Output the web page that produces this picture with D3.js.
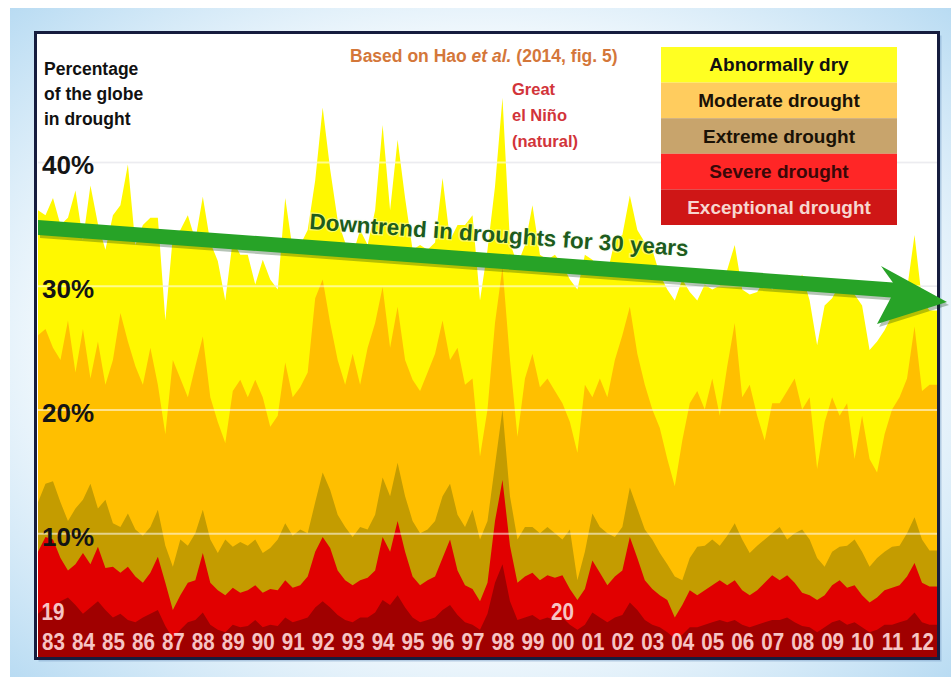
<!DOCTYPE html>
<html>
<head>
<meta charset="utf-8">
<script src="https://cdn.jsdelivr.net/npm/d3@7"></script>
<style>
  body { margin: 0; background: #fff; }
  svg { display: block; font-family: "Liberation Sans", Arial, sans-serif; }
</style>
</head>
<body>
<svg id="chart" width="951" height="677"></svg>
<script>
'use strict'

// quarterly samples, 1983 .. 2012 (4 per year), % of the globe at or above each level
var abnormallyDry = [
  36.1, 35.7, 37.1, 34.9,  35.5, 37.7, 33.7, 38.1,  35.0, 32.9, 35.7, 36.5,  39.8, 33.3, 34.9, 35.5,
  35.5, 27.2, 34.0, 34.5,  35.7, 33.7, 37.2, 33.5,  32.0, 28.8, 33.7, 32.5,  32.5, 30.1, 32.1, 30.5,
  29.7, 37.1, 32.9, 33.3,  34.5, 38.5, 44.4, 39.4,  35.3, 33.5, 32.5, 34.5,  33.3, 36.1, 43.0, 36.1,
  41.8, 37.1, 32.9, 33.3,  32.9, 33.5, 38.7, 33.7,  34.9, 34.9, 35.7, 28.8,  32.9, 38.0, 45.2, 33.5,
  31.7, 33.3, 36.5, 32.5,  32.1, 32.5, 31.7, 30.5,  29.7, 32.5, 32.1, 31.3,  31.0, 33.7, 34.1, 37.3,
  34.5, 33.5, 32.9, 30.9,  29.7, 28.8, 30.5, 29.5,  28.8, 30.1, 29.7, 30.0,  31.3, 33.3, 29.7, 29.3,
  29.5, 30.5, 29.7, 30.5,  30.9, 29.7, 30.9, 28.8,  25.2, 28.4, 29.0, 30.1,  30.5, 29.3, 28.4, 24.8,
  25.5, 26.4, 27.6, 27.6,  29.7, 34.1, 28.8, 28.0
];
var moderate = [
  26.0, 26.5, 25.0, 24.0,  27.2, 23.0, 26.5, 22.5,  25.5, 22.0, 24.0, 27.8,  25.5, 23.5, 22.0, 25.0,
  22.0, 18.0, 24.0, 22.5,  21.0, 23.5, 25.9, 21.0,  19.0, 17.3, 21.5, 22.4,  21.0, 22.4, 21.0, 18.6,
  19.5, 23.8, 21.0, 21.8,  23.0, 29.0, 30.5, 27.0,  24.0, 22.0, 24.5, 22.0,  25.0, 27.0, 29.9, 25.0,
  28.3, 24.0, 22.4, 21.5,  23.0, 24.5, 27.2, 24.0,  25.0, 22.0, 22.5, 16.2,  20.0, 27.0, 31.5, 24.0,
  17.8, 22.5, 24.5, 21.8,  22.5, 21.5, 20.5, 19.0,  16.5, 22.0, 21.0, 22.5,  21.0, 24.0, 26.0, 28.3,
  24.5, 22.0, 20.0, 18.5,  16.0, 13.8, 17.5, 20.5,  21.5, 20.0, 22.5, 19.5,  23.5, 27.0, 21.0, 22.0,
  19.5, 17.5, 20.5, 20.5,  21.5, 22.5, 20.0, 21.0,  15.2, 19.0, 21.0, 19.5,  20.5, 16.0, 19.5, 16.0,
  14.9, 18.0, 20.0, 21.0,  22.5, 26.7, 21.5, 22.0
];
var extreme = [
  12.5, 14.0, 14.2, 12.5,  11.0, 12.0, 12.7, 14.0,  12.0, 12.7, 10.8, 10.5,  11.6, 10.3, 9.8, 10.5,
  11.9, 9.0, 7.3, 9.5,     9.0, 10.0, 11.9, 9.5,    8.4, 9.5, 8.9, 9.3,      9.0, 9.5, 8.4, 8.8,
  9.5, 10.8, 9.8, 10.3,    10.0, 12.5, 14.9, 13.5,  11.5, 10.5, 9.7, 10.5,   10.3, 11.5, 14.5, 13.0,
  15.7, 13.0, 11.0, 10.0,  10.3, 11.0, 13.0, 14.0,  11.5, 10.5, 11.9, 9.5,   11.0, 15.5, 20.0, 13.0,
  9.5, 10.5, 10.5, 10.0,   10.5, 10.0, 9.5, 10.3,   6.2, 8.5, 11.6, 10.5,    10.0, 9.7, 10.5, 13.7,
  12.0, 10.3, 9.5, 8.4,    7.5, 6.5, 6.2, 8.0,      8.9, 9.0, 9.5, 9.0,      9.8, 10.8, 9.5, 8.4,
  9.0, 9.5, 10.0, 10.5,    9.5, 10.0, 10.3, 9.5,    8.0, 7.3, 8.5, 8.9,      9.0, 9.5, 8.5, 7.3,
  8.0, 8.5, 8.9, 9.0,      10.0, 11.3, 9.5, 8.6
];
var severe = [
  8.5, 9.7, 9.5, 8.0,      7.0, 7.5, 8.4, 7.5,      8.9, 7.2, 7.3, 6.8,      7.3, 6.5, 6.0, 6.8,
  8.1, 6.0, 3.8, 5.0,      6.0, 6.2, 8.4, 6.0,      5.4, 5.0, 5.6, 5.2,      5.4, 5.8, 5.2, 5.5,
  5.4, 6.2, 5.6, 5.8,      6.5, 8.5, 9.7, 8.8,      7.0, 6.2, 5.8, 6.2,      6.4, 7.0, 9.7, 8.5,
  11.0, 8.5, 6.5, 5.8,     6.2, 6.5, 8.0, 9.5,      7.0, 5.8, 5.5, 4.5,      6.0, 11.0, 14.3, 9.0,
  6.0, 6.5, 6.8, 6.2,      6.6, 6.4, 6.6, 5.5,      4.6, 5.5, 7.8, 6.8,      5.8, 6.5, 7.0, 9.7,
  8.0, 6.2, 5.5, 5.0,      4.6, 3.2, 4.2, 5.4,      5.0, 5.4, 5.8, 6.2,      5.8, 6.2, 5.4, 5.0,
  5.4, 6.0, 6.6, 6.2,      6.6, 6.0, 5.2, 5.0,      4.6, 5.0, 5.8, 6.2,      5.6, 5.8, 5.0, 4.4,
  4.8, 5.4, 5.6, 5.8,      6.5, 7.6, 6.0, 5.7
];
var exceptional = [
  3.5, 4.0, 3.8, 4.5,      4.8, 4.2, 3.5, 4.0,      4.5, 3.8, 3.2, 3.5,      3.0, 2.8, 3.2, 3.5,
  3.8, 2.5, 1.5, 2.2,      2.8, 3.0, 3.6, 2.6,      2.2, 2.0, 2.6, 2.4,      2.5, 3.0, 2.4, 2.6,
  2.5, 3.2, 2.8, 3.0,      3.2, 4.0, 4.5, 4.0,      3.4, 3.0, 2.8, 3.2,      3.2, 3.6, 4.6, 4.2,
  5.0, 4.0, 3.2, 2.8,      3.0, 3.2, 3.8, 4.2,      3.4, 2.8, 2.6, 2.2,      3.5, 6.0, 7.5, 4.5,
  3.0, 3.2, 3.4, 3.0,      3.2, 3.0, 3.2, 2.6,      2.2, 2.6, 3.6, 3.2,      2.8, 3.2, 3.4, 4.4,
  3.8, 3.0, 2.6, 2.4,      2.0, 1.5, 1.8, 2.4,      2.4, 2.6, 2.8, 3.0,      2.8, 3.0, 2.6, 2.4,
  2.6, 2.8, 3.0, 3.0,      3.2, 2.8, 2.5, 2.4,      2.0, 2.4, 2.8, 3.0,      2.6, 2.8, 2.4, 2.0,
  2.2, 2.6, 2.6, 2.8,      3.0, 3.6, 2.8, 2.6
];

var yearLabels = ['83', '84', '85', '86', '87', '88', '89', '90', '91', '92', '93', '94', '95', '96', '97',
  '98', '99', '00', '01', '02', '03', '04', '05', '06', '07', '08', '09', '10', '11', '12'];
var centuryLabels = [{ year: 1983, text: '19' }, { year: 2000, text: '20' }];
var yTicks = [10, 20, 30, 40];

var legendLabels = ['Abnormally dry', 'Moderate drought', 'Extreme drought', 'Severe drought', 'Exceptional drought'];
var legendFills = ['#ffff22', '#ffcc5e', '#c8a46c', '#ff2626', '#cf1616'];
var legendText = ['#111', '#1a1206', '#1a1206', '#3a0808', '#f7d6cf'];
var areaFills = ['#fff800', '#ffbf00', '#c49c00', '#e10000', '#a00000'];

// SCALES
var PLOT_L = 38, PLOT_R = 937, PLOT_T = 35, PLOT_B = 657;
var x = d3.scaleLinear().domain([1983, 2013]).range([PLOT_L, PLOT_R]);
var y = d3.scaleLinear().domain([0, 40]).range([PLOT_B, 162]);

var svg = d3.select('#chart');
var defs = svg.append('defs');

// page background
var bg = defs.append('radialGradient').attr('id', 'bgGrad').attr('cx', '50%').attr('cy', '50%').attr('r', '72%');
bg.append('stop').attr('offset', '0.62').attr('stop-color', '#f3f9fd');
bg.append('stop').attr('offset', '1').attr('stop-color', '#b6daf2');
svg.append('rect').attr('width', 951).attr('height', 677).attr('fill', '#fff');
svg.append('rect').attr('x', 10).attr('y', 8).attr('width', 941).attr('height', 669).attr('fill', 'url(#bgGrad)');

defs.append('clipPath').attr('id', 'plotClip')
  .append('rect').attr('x', PLOT_L).attr('y', PLOT_T).attr('width', PLOT_R - PLOT_L).attr('height', PLOT_B - PLOT_T + 2);

// frame
svg.append('rect').attr('x', 38.5).attr('y', 35.5).attr('width', 903).attr('height', 626).attr('fill', '#7fa6cc').attr('opacity', 0.5);
svg.append('rect').attr('x', 35.5).attr('y', 32.5).attr('width', 903).attr('height', 626)
  .attr('fill', '#fff').attr('stroke', '#161c3e').attr('stroke-width', 3);

// grid behind the areas (shows on the white part)
svg.append('g').attr('transform', 'translate(' + PLOT_R + ',0)')
  .call(d3.axisLeft(y).tickValues(yTicks).tickSize(PLOT_R - PLOT_L).tickFormat(''))
  .call(function (g) { g.select('.domain').remove(); })
  .selectAll('line').attr('stroke', '#d6d6de').attr('stroke-width', 1.5);

// AREAS
function toSeries(values) {
  var pts = values.map(function (v, i) { return { t: 1983 + i / 4, v: v }; });
  pts.push({ t: 2013, v: values[values.length - 1] });
  return pts;
}

var area = d3.area()
  .x(function (d) { return x(d.t); })
  .y0(y(0))
  .y1(function (d) { return y(d.v); })
  .curve(d3.curveLinear);

var series = [abnormallyDry, moderate, extreme, severe, exceptional];
var plot = svg.append('g').attr('clip-path', 'url(#plotClip)');
series.forEach(function (s, k) {
  plot.append('path').datum(toSeries(s)).attr('d', area).attr('fill', areaFills[k]);
});

// grid over the areas
svg.append('g').attr('transform', 'translate(' + PLOT_R + ',0)')
  .call(d3.axisLeft(y).tickValues(yTicks).tickSize(PLOT_R - PLOT_L).tickFormat(''))
  .call(function (g) { g.select('.domain').remove(); })
  .selectAll('line').attr('stroke', '#fff').attr('stroke-opacity', 0.55).attr('stroke-width', 2);

// X AXIS (year labels printed inside the plot)
var xAxis = svg.append('g').attr('transform', 'translate(0,650)')
  .call(d3.axisBottom(x)
    .tickValues(yearLabels.map(function (d, i) { return 1983.5 + i; }))
    .tickFormat(function (d, i) { return yearLabels[i]; })
    .tickSize(0).tickPadding(0));
xAxis.select('.domain').remove();
xAxis.selectAll('text')
  .attr('y', 0).attr('dy', 0)
  .attr('transform', 'scale(0.86,1)')
  .attr('font-size', '24px').attr('font-weight', 'bold')
  .attr('font-family', '"Liberation Sans", Arial, sans-serif')
  .attr('fill', '#f6c4c4');

svg.selectAll('.century').data(centuryLabels).enter().append('text')
  .attr('class', 'century')
  .attr('transform', function (d) { return 'translate(' + x(d.year + 0.5) + ',620) scale(0.86,1)'; })
  .attr('text-anchor', 'middle')
  .attr('font-size', '24px').attr('font-weight', 'bold')
  .attr('fill', '#f6c4c4')
  .text(function (d) { return d.text; });

// Y AXIS labels
var yAxis = svg.append('g').attr('transform', 'translate(42,0)')
  .call(d3.axisRight(y).tickValues(yTicks).tickFormat(function (d) { return d + '%'; }).tickSize(0).tickPadding(0));
yAxis.select('.domain').remove();
yAxis.selectAll('text')
  .attr('x', 0).attr('dy', '0.46em')
  .attr('font-size', '26px').attr('font-weight', 'bold')
  .attr('font-family', '"Liberation Sans", Arial, sans-serif')
  .attr('fill', '#141414');

// TEXTS
var leftTitle = ['Percentage', 'of the globe', 'in drought'];
svg.selectAll('.ltitle').data(leftTitle).enter().append('text')
  .attr('class', 'ltitle')
  .attr('x', 44).attr('y', function (d, i) { return 75 + i * 25; })
  .attr('font-size', '17.5px').attr('font-weight', 'bold').attr('fill', '#111')
  .text(function (d) { return d; });

var src = svg.append('text').attr('x', 350).attr('y', 62)
  .attr('font-size', '17.5px').attr('font-weight', 'bold').attr('fill', '#d4773a');
src.append('tspan').text('Based on Hao ');
src.append('tspan').attr('font-style', 'italic').text('et al.');
src.append('tspan').text(' (2014, fig. 5)');

var nino = ['Great', 'el Niño', '(natural)'];
svg.selectAll('.nino').data(nino).enter().append('text')
  .attr('class', 'nino')
  .attr('x', 512).attr('y', function (d, i) { return 95 + i * 26; })
  .attr('font-size', '16.5px').attr('font-weight', 'bold').attr('fill', '#d2343a')
  .text(function (d) { return d; });

// LEGEND
var rows = d3.scaleBand().domain(legendLabels).range([47, 225]);
var lg = svg.append('g');
lg.selectAll('rect').data(legendLabels).enter().append('rect')
  .attr('x', 661).attr('width', 236)
  .attr('y', function (d) { return rows(d); })
  .attr('height', rows.bandwidth())
  .attr('fill', function (d, i) { return legendFills[i]; });
lg.selectAll('text').data(legendLabels).enter().append('text')
  .attr('x', 779)
  .attr('y', function (d) { return rows(d) + rows.bandwidth() / 2 + 6.5; })
  .attr('text-anchor', 'middle')
  .attr('font-size', '19px').attr('font-weight', 'bold')
  .attr('fill', function (d, i) { return legendText[i]; })
  .text(function (d) { return d; });

// GREEN TREND ARROW
function arrowPath(dx, dy) {
  var p = d3.path();
  p.moveTo(38 + dx, 220 + dy);
  p.lineTo(893 + dx, 282.5 + dy);
  p.lineTo(881 + dx, 266 + dy);
  p.lineTo(947 + dx, 302 + dy);
  p.lineTo(877 + dx, 324 + dy);
  p.lineTo(891 + dx, 297.5 + dy);
  p.lineTo(38 + dx, 235 + dy);
  p.closePath();
  return p.toString();
}
svg.append('path').attr('d', arrowPath(2, 3)).attr('fill', '#0b3d0b').attr('opacity', 0.3);
svg.append('path').attr('d', arrowPath(0, 0)).attr('fill', '#27a327');

svg.append('text')
  .attr('transform', 'translate(309,229) rotate(4.1)')
  .attr('font-size', '22.5px').attr('font-weight', 'bold')
  .attr('fill', '#1d5c1d')
  .attr('stroke', '#f4ffe8').attr('stroke-width', 2.5).attr('stroke-opacity', 0.45)
  .attr('paint-order', 'stroke')
  .text('Downtrend in droughts for 30 years');
</script>
</body>
</html>
